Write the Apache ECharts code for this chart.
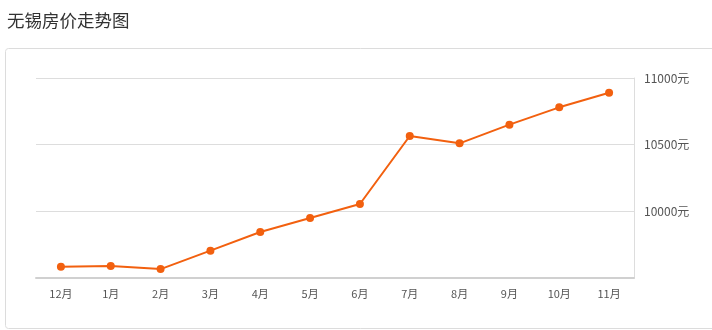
<!DOCTYPE html>
<html><head><meta charset="utf-8">
<script src="https://cdn.jsdelivr.net/npm/echarts@6/dist/echarts.min.js"></script>
<style>html,body{margin:0;padding:0;background:#fff}#c{width:712px;height:330px}</style>
</head><body><div id="c"></div>
<script>
const months = ['12月','1月','2月','3月','4月','5月','6月','7月','8月','9月','10月','11月'];
const prices = [9585, 9590, 9567, 9705, 9845, 9950, 10055, 10565, 10510, 10650, 10780, 10890];
const titleText = '无锡房价走势图';
const unit = '元';

const chart = echarts.init(document.getElementById('c'));
chart.setOption({
  animation: false,
  textStyle: {fontFamily: '"Noto Sans CJK SC", "Noto Sans", sans-serif'},
  title: {text: titleText, left: 2, top: 7, textStyle: {fontSize: 17.5, fontWeight: 'normal', color: '#333'}},
  graphic: [{type: 'rect', shape: {x: 5.5, y: 48.5, width: 720, height: 280, r: 3}, style: {fill: 'none', stroke: '#dcdcdc', lineWidth: 1}, z: -1}],
  grid: {left: 36, right: 78, top: 78, bottom: 52},
  xAxis: {
    type: 'category', data: months, boundaryGap: true,
    axisLine: {lineStyle: {color: '#d0d0d0', width: 2}},
    axisTick: {alignWithLabel: true, length: 4, lineStyle: {color: '#ccc'}},
    axisLabel: {color: '#555', fontSize: 11, margin: 10}
  },
  yAxis: {
    type: 'value', position: 'right', min: 9500, max: 11000, interval: 500,
    axisLine: {show: true, lineStyle: {color: '#ddd'}},
    axisTick: {show: false},
    splitLine: {lineStyle: {color: '#ddd'}},
    axisLabel: {color: '#555', fontSize: 12, margin: 10, showMinLabel: false, formatter: v => v + unit}
  },
  series: [{
    type: 'line', data: prices, symbol: 'circle', symbolSize: 8,
    lineStyle: {color: '#f2600f', width: 2}, itemStyle: {color: '#f2600f'}
  }]
});
</script></body></html>
